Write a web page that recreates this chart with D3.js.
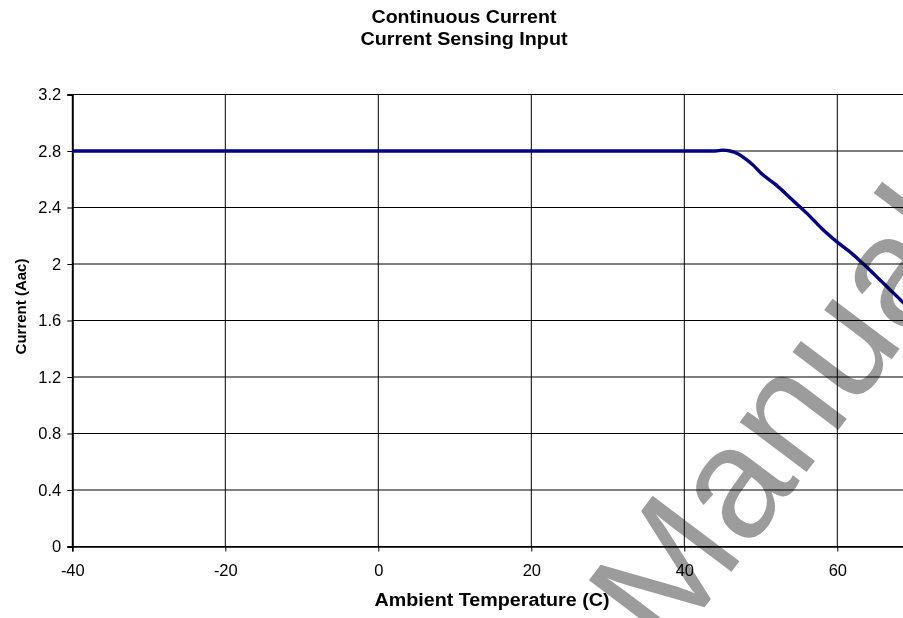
<!DOCTYPE html>
<html>
<head>
<meta charset="utf-8">
<script src="https://cdn.jsdelivr.net/npm/d3@7"></script>
<style>
  html, body { margin: 0; padding: 0; background: #fff; }
  svg { display: block; font-family: "Liberation Sans", Arial, sans-serif; }
</style>
</head>
<body>
<svg id="chart" width="903" height="618"></svg>
<script>
// ---- data ----
const titleLines = ["Continuous Current", "Current Sensing Input"];
const xAxisTitle = "Ambient Temperature (C)";
const yAxisTitle = "Current (Aac)";
const watermarkText = "Manuals";

const temperature = [-40, 44, 45, 46, 47, 48, 49, 50, 52, 54, 56, 58, 60, 62, 64, 66, 68, 70];
const current =     [2.80, 2.80, 2.806, 2.80, 2.78, 2.745, 2.70, 2.645, 2.56, 2.46, 2.36, 2.25, 2.155, 2.07, 1.97, 1.865, 1.76, 1.655];

const xTicks = [-40, -20, 0, 20, 40, 60];
const yTicks = [0, 0.4, 0.8, 1.2, 1.6, 2, 2.4, 2.8, 3.2];

// ---- layout ----
const svg = d3.select("#chart");
const W = 903, H = 618;
svg.append("rect").attr("width", W).attr("height", H).attr("fill", "#fff");

const x = d3.scaleLinear().domain([-40, 70]).range([72.3, 913.8]);
const y = d3.scaleLinear().domain([0, 3.2]).range([546.5, 94.5]);

const plot = svg.append("g");

// horizontal gridlines
plot.selectAll("line.hg").data(yTicks).join("line")
  .attr("class", "hg")
  .attr("x1", x(-40)).attr("x2", x(70))
  .attr("y1", d => y(d)).attr("y2", d => y(d))
  .attr("stroke", "#000").attr("stroke-width", 1);

// vertical gridlines
plot.selectAll("line.vg").data(xTicks.filter(d => d > -40)).join("line")
  .attr("class", "vg")
  .attr("x1", d => x(d)).attr("x2", d => x(d))
  .attr("y1", y(3.2)).attr("y2", y(0))
  .attr("stroke", "#000").attr("stroke-width", 1);

// axes
const xAxis = d3.axisBottom(x).tickValues(xTicks).tickSize(5).tickPadding(13).tickFormat(d => String(d));
const gx = svg.append("g").attr("transform", `translate(0,${y(0)})`).call(xAxis);
gx.select(".domain").attr("stroke", "#000").attr("stroke-width", 1.6);
gx.selectAll(".tick line").attr("stroke", "#000");
gx.selectAll(".tick text").attr("font-size", 16.5).attr("fill", "#000")
  .attr("font-family", "Liberation Sans, Arial, sans-serif");

const yAxis = d3.axisLeft(y).tickValues(yTicks).tickSize(5).tickPadding(6).tickFormat(d => String(d));
const gy = svg.append("g").attr("transform", `translate(${x(-40)},0)`).call(yAxis);
gy.select(".domain").attr("stroke", "#000").attr("stroke-width", 2);
gy.selectAll(".tick line").attr("stroke", "#000");
gy.selectAll(".tick text").attr("font-size", 16.5).attr("fill", "#000")
  .attr("font-family", "Liberation Sans, Arial, sans-serif");

// data line
const line = d3.line().x((d, i) => x(temperature[i])).y(d => y(d)).curve(d3.curveMonotoneX);
svg.append("path").datum(current)
  .attr("d", line)
  .attr("fill", "none").attr("stroke", "#000080").attr("stroke-width", 3.4)
  .attr("stroke-linejoin", "round");

// watermark
svg.append("text")
  .attr("transform", "translate(668,656) rotate(-53)")
  .attr("font-size", 158)
  .attr("fill", "#9c9c9c")
  .style("mix-blend-mode", "multiply")
  .text(watermarkText);

// titles
svg.append("g").selectAll("text").data(titleLines).join("text")
  .attr("x", 464).attr("y", (d, i) => 23 + i * 22)
  .attr("text-anchor", "middle").attr("font-weight", "bold").attr("font-size", 18)
  .attr("textLength", (d, i) => i === 0 ? 185 : 207)
  .attr("lengthAdjust", "spacingAndGlyphs")
  .text(d => d);

svg.append("text")
  .attr("x", 492).attr("y", 606)
  .attr("text-anchor", "middle").attr("font-weight", "bold").attr("font-size", 17.5)
  .attr("textLength", 235)
  .attr("lengthAdjust", "spacingAndGlyphs")
  .text(xAxisTitle);

svg.append("text")
  .attr("transform", `translate(26,${(y(0) + y(3.2)) / 2 - 14}) rotate(-90)`)
  .attr("text-anchor", "middle").attr("font-weight", "bold").attr("font-size", 15)
  .text(yAxisTitle);
</script>
</body>
</html>
